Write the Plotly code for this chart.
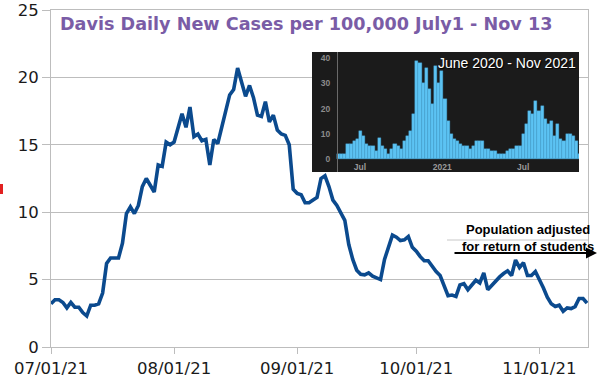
import pandas as pd
import plotly.graph_objects as go

# ---- main series: Davis daily new cases per 100,000 (Jul 1 - Nov 13, 2021)
start_date = "2021-07-01"
cases = [3.2, 3.5, 3.5, 3.3, 2.9, 3.3, 2.95, 2.95, 2.55, 2.3,
         3.1, 3.1, 3.2, 4.0, 6.2, 6.6, 6.6, 6.6, 7.7, 9.9,
         10.4, 9.9, 10.5, 11.9, 12.5, 12.0, 11.5, 13.5, 13.4, 15.2,
         15.0, 15.2, 16.3, 17.3, 16.3, 17.8, 15.6, 15.8, 15.3, 15.4,
         13.5, 15.4, 15.1, 16.2, 17.5, 18.7, 19.1, 20.7, 19.6, 18.6,
         19.4, 18.5, 17.2, 17.1, 18.2, 16.7, 17.2, 16.1, 15.8, 15.7,
         15.0, 11.7, 11.4, 11.3, 10.7, 10.7, 10.9, 11.1, 12.5, 12.7,
         11.9, 10.9, 10.5, 9.9, 9.4, 7.6, 6.5, 5.7, 5.4, 5.35,
         5.5, 5.25, 5.1, 5.0, 6.5, 7.4, 8.3, 8.15, 7.9, 7.95,
         8.2, 7.4, 7.1, 6.7, 6.4, 6.4, 5.95, 5.6, 5.3, 4.5,
         3.8, 3.85, 3.75, 4.6, 4.7, 4.25, 4.6, 4.95, 4.75, 5.5,
         4.25, 4.6, 4.9, 5.2, 5.45, 5.65, 5.3, 6.45, 5.9, 6.25,
         5.3, 5.3, 5.6, 5.05, 4.4, 3.7, 3.2, 3.0, 3.1, 2.65,
         2.9, 2.85, 3.0, 3.6, 3.6, 3.25]
dates = pd.date_range(start_date, periods=len(cases), freq="D")

y_ticks = [0, 5, 10, 15, 20, 25]

# ---- inset series: weekly view June 2020 - Nov 2021
inset_start = "2020-05-14 12:00"
inset_vals = [2, 2, 2, 6, 6, 7, 8, 11, 9, 6,
              5, 5, 3, 8.5, 5, 4, 2, 4, 6, 5,
              4, 7, 9, 11, 18, 39, 38, 30, 36, 28,
              22, 37, 30, 35, 24, 15, 10, 8, 7, 6,
              5, 5, 4, 5, 7, 7, 7, 4, 4, 3,
              3, 2, 2, 2, 3, 4, 4, 5, 5, 10,
              14, 19, 18, 23, 19, 21, 16, 14, 15, 9,
              14, 8, 7, 10, 10, 9, 7, 2]
inset_dates = pd.date_range(inset_start, periods=len(inset_vals), freq="7D")
inset_tickvals = ["2020-07-01", "2021-01-01", "2021-07-01"]
inset_ticktext = ["Jul", "2021", "Jul"]
inset_yticks = [0, 10, 20, 30, 40]

title_text = "Davis Daily New Cases per 100,000 July1 - Nov 13"
inset_title = "June 2020 - Nov 2021"
note_text = "Population adjusted<br>for return of students"

W, H = 598, 383
L, R, T, B = 51, 10, 10, 36
PW, PH = W - L - R, H - T - B


def px(x):
    return (x - L) / PW


def py(y):
    return (H - B - y) / PH


grid = "#bdbdbd"

fig = go.Figure()
fig.add_trace(go.Scatter(x=dates, y=cases, mode="lines",
                         line=dict(color="#0b4a8e", width=3.6),
                         hoverinfo="skip", showlegend=False))
fig.add_trace(go.Bar(x=inset_dates, y=inset_vals, width=7 * 86400000,
                     marker=dict(color="#5cc3f3", line=dict(color="#47a6da", width=0.4)),
                     xaxis="x2", yaxis="y2", showlegend=False, hoverinfo="skip"))

fig.update_layout(
    width=W, height=H,
    margin=dict(l=L, r=R, t=T, b=B, autoexpand=False),
    paper_bgcolor="white", plot_bgcolor="white",
    font=dict(family="DejaVu Sans", size=16.5, color="#1a1a1a"),
    xaxis=dict(type="date", range=["2021-07-01", "2021-11-13 06:00"],
               tick0="2021-07-01", dtick="M1", tickformat="%m/%d/%y",
               ticks="outside", ticklen=6, tickcolor=grid, automargin=False,
               showgrid=False, showline=True, linecolor=grid, mirror=True,
               tickfont=dict(family="DejaVu Sans", size=16.5, color="#1a1a1a")),
    yaxis=dict(range=[0, 25], tickvals=y_ticks, showgrid=True, gridcolor=grid,
               ticks="outside", ticklen=8, tickcolor=grid, zeroline=False,
               showline=True, linecolor=grid, mirror=True, ticklabelstandoff=0,
               automargin=False,
               tickfont=dict(family="DejaVu Sans", size=16.5, color="#1a1a1a")),
    xaxis2=dict(type="date", domain=[px(312), px(579)], anchor="free", position=py(160),
                range=["2020-03-16", "2021-11-03"], tickvals=inset_tickvals,
                ticktext=inset_ticktext, ticks="", showgrid=False, showline=False,
                ticklabelstandoff=0, automargin=False,
                tickfont=dict(family="Liberation Sans", size=8.5, color="#9a9a9a", weight="bold")),
    yaxis2=dict(domain=[py(172), py(52)], anchor="free", position=px(337),
                range=[-5.16, 42.5], tickvals=inset_yticks, ticks="", showgrid=False,
                zeroline=False, showline=True, linecolor="#6a6a6a", linewidth=1,
                ticklabelstandoff=5, automargin=False,
                tickfont=dict(family="Liberation Sans", size=8.5, color="#8c8c8c", weight="bold")),
    bargap=0,
)

fig.update_layout(shapes=[
    dict(type="rect", xref="x2", yref="y2", x0="2019-01-01", x1="2023-01-01",
         y0=-50, y1=100, fillcolor="#1b1b1b", line=dict(width=0), layer="below"),
    dict(type="line", xref="paper", yref="paper", x0=px(447), x1=px(588),
         y0=py(240), y1=py(240), line=dict(color="#c8c8c8", width=1), layer="below"),
    dict(type="rect", xref="paper", yref="paper", x0=px(0), x1=px(3),
         y0=py(194), y1=py(184), fillcolor="#e22020", line=dict(width=0)),
])

fig.update_layout(annotations=[
    dict(text=title_text, xref="paper", yref="paper", x=px(58), y=py(24),
         xanchor="left", yanchor="middle", showarrow=False,
         font=dict(family="DejaVu Sans", size=17.6, color="#7a5ca6", weight="bold")),
    dict(text=inset_title, xref="paper", yref="paper", x=px(578), y=py(63),
         xanchor="right", yanchor="middle", showarrow=False,
         font=dict(family="Liberation Sans", size=14, color="white",
                   shadow="1px 1px 1px #000")),
    dict(text=note_text, xref="paper", yref="paper", x=px(528), y=py(238.5),
         xanchor="center", yanchor="middle", align="center", showarrow=False,
         font=dict(family="Liberation Sans", size=13, color="black", weight="bold")),
    dict(text="", xref="paper", yref="paper", x=px(597), y=py(253),
         ax=-144, ay=0, showarrow=True, arrowhead=2, arrowsize=1,
         arrowwidth=2.2, arrowcolor="black", standoff=0),
])

fig.write_html("out.html", config={"displayModeBar": False},
               post_script="document.body.style.margin='0px';"
                           "document.body.style.overflow='hidden';")
